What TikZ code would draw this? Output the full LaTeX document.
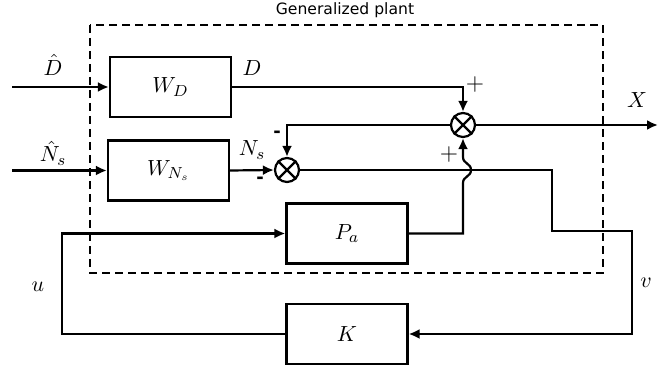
\documentclass[tikz,border=0pt]{standalone}
\usepackage{amsmath,amssymb}
\usepackage{fontspec}
\newfontfamily\plantfont{DejaVu Sans}
\usepackage{tikz}
\usetikzlibrary{arrows.meta,positioning,calc}

\begin{document}
\begin{tikzpicture}[x=0.5pt, y=-0.5pt, line width=1.1pt, >={Latex[length=5.5pt,width=5pt]},
  block/.style={draw, minimum width=60.5pt, minimum height=30pt, inner sep=0pt,
                font=\fontsize{11}{13}\selectfont},
  summer/.style={draw, circle, minimum size=12pt, inner sep=0pt},
  lbl/.style={font=\fontsize{11}{13}\selectfont},
  sgn/.style={font=\fontsize{13}{15}\selectfont, inner sep=0pt},
  msgn/.style={font=\plantfont\bfseries\fontsize{9}{11}\selectfont, inner sep=0pt}]
  \useasboundingbox (0,0) rectangle (659,373);

  % generalized plant
  \draw[dash pattern=on 4pt off 2.5pt, line width=0.9pt] (90,25) rectangle (603,273);
  \node[font=\plantfont\fontsize{7.8}{9}\selectfont] (title) at (345,10) {Generalized plant};

  \node[block] (WD) at (170.5,87) {$W_D$};
  \node[block] (WN) at (168.5,170.5) {$W_{N_s}$};
  \node[block] (Pa) at (347,233.5) {$P_a$};
  \node[block] (K) at (347,334) {$K$};

  \node[summer] (S2) at (463,125) {};
  \node[summer] (S1) at (287,170) {};
  \draw (S1.north west) -- (S1.south east) (S1.north east) -- (S1.south west);
  \draw (S2.north west) -- (S2.south east) (S2.north east) -- (S2.south west);

  \coordinate (inD) at (12,87);
  \coordinate (inN) at (12,170.5);
  \coordinate (Xout) at (658,125);
  \coordinate (vA) at (552,170);
  \coordinate (vB) at (552,231);
  \coordinate (vC) at (632,231);
  \coordinate (uA) at (62,334);
  \coordinate (hopB) at (463,183);
  \coordinate (hopT) at (463,157);

  \draw[->] (inD) -- (WD.west);
  \draw[->] (inN) -- (WN.west);
  \draw[->] (WD.east) -| (S2.north);
  \draw[->] (WN.east) -- (S1.west);
  \draw[->] (S2.west) -| (S1.north);
  \draw[->] (S2.east) -- (Xout);
  \draw[->] (S1.east) -- (vA) -- (vB) -- (vC) |- (K.east);
  \draw[->] (K.west) -- (uA) |- (Pa.west);
  \draw[->] (Pa.east) -| (hopB) .. controls (463,176) and (471,177) .. (471,170)
    .. controls (471,163) and (463,164) .. (hopT) -- (S2.south);

  \node[lbl] (lDhat) at (53,65) {$\hat{D}$};
  \node[lbl] (lNhat) at (53,153) {$\hat{N}_s$};
  \node[lbl] (lD) at (252,68) {$D$};
  \node[lbl] (lN) at (252,150) {$N_s$};
  \node[lbl] (lX) at (637,100) {$X$};
  \node[lbl] (lu) at (38,287) {$u$};
  \node[lbl] (lv) at (646,283) {$v$};
  \node[sgn] (p1) at (475,85) {$+$};
  \node[sgn] (p2) at (449,155) {$+$};
  \node[msgn] (m1) at (277,134) {-};
  \node[msgn] (m2) at (260,180) {-};
\end{tikzpicture}
\end{document}
